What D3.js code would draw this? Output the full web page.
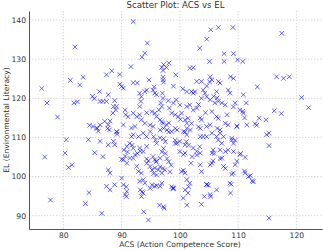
<!DOCTYPE html>
<html>
<head>
<meta charset="utf-8">
<script src="https://cdn.jsdelivr.net/npm/d3@7/dist/d3.min.js"></script>
<style>
  body { margin: 0; background: #fff; }
  svg { display: block; font-family: "DejaVu Sans", sans-serif; }
</style>
</head>
<body>
<svg id="chart" width="323" height="250"></svg>
<script>
// values, one point per pair (acs[i], el[i])
const acs = [
  76.3, 77.2, 79.0, 82.0, 81.2, 81.8, 82.4, 82.8, 83.4, 85.0, 85.3, 84.5, 86.2, 86.3, 86.8, 87.4,
  87.7, 88.8, 88.6, 89.1, 88.5, 89.0, 87.4, 88.3, 89.7, 89.7, 90.0, 90.3, 90.6, 91.6, 92.0, 92.0,
  92.7, 93.5, 94.0, 94.4, 94.7, 94.3, 94.0, 93.1, 93.4, 93.3, 93.1, 95.4, 95.7, 96.0, 95.6, 97.0,
  97.1, 96.7, 96.9, 96.9, 97.2, 97.7, 98.1, 97.1, 97.1, 97.1, 97.2, 98.9, 99.3, 100.5, 101.2, 101.7,
  102.3, 102.9, 103.7, 103.4, 104.6, 105.3, 105.1, 105.2, 105.5, 105.1, 104.6, 106.6, 106.6, 106.9, 106.3, 107.6,
  107.6, 108.3, 108.6, 108.7, 109.2, 109.1, 109.2, 109.9, 110.8, 110.9, 111.4, 110.3, 110.9, 113.3, 116.6, 117.8,
  118.8, 117.5, 116.2, 117.4, 120.9, 122.1, 112.9, 113.6, 114.8, 114.9, 115.3, 115.3, 112.1, 112.6, 115.3,
  // upper middle band
  102.0, 102.3, 102.6, 104.0, 104.3, 104.6, 103.7, 105.2, 106.0, 106.6, 107.2, 107.8, 109.5, 98.9, 99.4, 100.0,
  101.2, 101.7, 102.3, 102.9, 98.6, 99.2, 99.7, 100.3, 100.9, 101.4, 102.0, 103.7, 105.5, 106.3, 106.6, 107.8,
  108.3, 109.8, 111.5, 104.6, 105.2, 103.2, 103.5, 104.4, 105.8, 106.4, 108.1, 109.2, 110.8, 111.1,
  85.1, 85.7, 86.3, 87.1, 87.7, 88.0, 90.3, 90.7, 91.1, 92.0, 92.6, 93.1, 93.4, 94.0, 95.2, 95.7,
  96.0, 94.9, 95.4, 96.6, 97.1, 97.7, 91.7, 92.3, 94.3, 98.0, 98.2, 98.1, 96.9, 101.2, 100.1, 96.4,
  // lower left
  89.1, 86.3, 87.7, 88.6, 88.8, 85.8, 86.0, 87.6, 87.9, 89.2, 89.2, 85.4, 86.8, 84.3, 80.5, 76.8,
  80.3, 80.9, 81.5, 77.8, 83.8, 84.4, 86.6, 90.9, 91.4, 90.3, 90.9, 91.4, 92.0, 92.3, 91.7, 92.0,
  92.9, 93.7, 94.3, 94.9, 93.1, 93.7, 94.3, 92.6, 92.9, 93.4, 95.4, 95.7, 96.0, 96.6, 94.9, 95.7,
  96.3, 96.9, 97.4, 93.1, 93.7, 94.0, 95.2, 95.7, 96.6, 96.9, 93.7, 93.4, 87.7, 88.0, 87.4, 88.8,
  90.0, 90.3, 90.6, 90.9, 88.0, 90.8, 90.8, 90.0, 90.6, 90.4, 91.0, 91.8, 92.0, 92.7, 93.2, 93.2,
  93.5, 93.8, 94.6, 94.3, 94.6, 94.3, 95.5, 95.8, 96.0, 95.9, 95.2, 95.5, 96.0, 94.9, 96.0, 96.5,
  97.2, 97.3, 96.6, 97.1, 96.9, 97.2, 97.5, 96.6, 97.2, 97.8, 98.1, 96.6, 97.2, 97.5, 97.8, 98.1,
  98.5, 98.6, 98.8, 98.3, 99.2, 99.5, 99.2, 99.5,
  // lower right
  98.6, 100.6, 101.2, 99.2, 100.0, 100.9, 103.5, 104.0, 104.6, 105.5, 106.3, 106.9, 107.5, 108.9, 109.2, 100.0,
  100.6, 100.9, 102.3, 102.9, 103.5, 105.5, 105.7, 106.9, 107.8, 108.3, 109.2, 110.3, 109.8, 109.5, 107.2, 105.2,
  105.5, 101.9, 103.5, 100.3, 100.9, 100.6, 103.7, 107.5, 109.2, 111.2, 101.2, 101.7, 104.6, 106.3, 108.6, 98.9,
  98.9, 100.9, 101.4, 105.2, 108.7, 100.6, 101.2, 101.5, 100.9, 101.2, 101.8, 101.1, 101.5, 102.1, 102.9, 103.2,
  103.5, 103.4, 103.7, 104.2, 104.6, 104.9, 105.3, 105.7, 105.9, 106.4, 106.9, 106.6, 107.2, 106.9, 107.8, 108.9,
  109.5, 108.9, 108.8, 110.4, 111.2, 111.1, 111.8, 112.4, 109.8, 113.2
];
const el = [
  122.5, 118.8, 115.2, 133.1, 124.6, 118.8, 119.1, 123.4, 125.4, 120.5, 119.9, 113.1, 121.7, 119.2, 119.2, 119.2,
  120.9, 119.4, 117.9, 117.9, 116.2, 117.0, 126.0, 127.0, 126.1, 123.6, 123.0, 122.6, 117.0, 128.1, 139.6, 124.0,
  123.9, 130.5, 131.5, 134.1, 124.7, 122.1, 121.7, 121.3, 120.4, 119.2, 117.9, 122.1, 121.3, 120.9, 122.9, 121.3,
  120.0, 118.8, 117.9, 127.9, 128.6, 127.9, 129.0, 127.1, 125.4, 124.7, 124.1, 123.1, 126.0, 122.4, 121.7, 127.7,
  127.8, 124.3, 124.3, 132.8, 135.1, 137.5, 129.4, 125.5, 124.7, 124.2, 123.1, 138.1, 124.3, 123.9, 121.7, 131.4,
  129.4, 122.1, 121.3, 125.5, 125.1, 138.1, 131.4, 129.8, 129.4, 120.9, 118.8, 117.0, 116.2, 122.9, 125.5, 125.1,
  125.5, 136.6, 116.8, 116.1, 120.2, 117.6, 113.5, 114.9, 114.5, 110.7, 111.1, 107.9, 100.2, 98.7, 89.4,
  121.7, 121.3, 121.7, 122.1, 121.3, 120.4, 120.0, 119.6, 118.8, 119.2, 118.8, 118.3, 118.8, 118.8, 119.6, 118.3,
  117.9, 118.3, 117.0, 117.5, 116.2, 115.8, 115.3, 116.2, 114.5, 114.9, 113.6, 114.5, 116.6, 115.3, 114.9, 113.6,
  113.2, 112.8, 113.2, 112.8, 113.2, 118.4, 115.0, 116.3, 120.5, 120.1, 115.8, 117.8, 116.7, 115.0,
  112.8, 112.4, 113.2, 114.1, 113.2, 114.2, 113.2, 115.8, 115.3, 116.2, 115.3, 115.8, 114.5, 113.6, 116.6, 116.2,
  115.3, 113.2, 112.8, 114.5, 113.6, 113.2, 112.4, 112.8, 116.3, 119.4, 117.5, 113.7, 114.0, 113.6, 114.6, 117.0,
  111.5, 109.0, 108.1, 109.0, 108.1, 112.3, 111.6, 112.3, 111.9, 111.4, 110.8, 106.1, 105.1, 109.4, 109.4, 105.0,
  106.0, 102.3, 103.0, 94.0, 93.1, 95.9, 90.6, 107.7, 108.5, 104.3, 103.4, 104.7, 104.7, 105.6, 110.2, 110.7,
  110.2, 111.1, 110.2, 111.5, 107.3, 106.4, 107.7, 102.6, 101.3, 100.9, 105.1, 104.3, 103.9, 104.7, 102.6, 102.2,
  101.7, 100.9, 101.7, 98.8, 99.2, 98.3, 97.9, 97.5, 97.5, 98.3, 95.8, 94.9, 101.7, 100.9, 97.5, 97.9,
  99.6, 97.9, 95.4, 96.2, 96.6, 97.4, 94.9, 104.4, 105.2, 106.8, 106.3, 108.0, 107.2, 105.9, 106.5, 96.6,
  96.1, 91.0, 88.9, 103.4, 104.0, 104.5, 110.2, 109.3, 108.5, 103.8, 101.7, 100.8, 100.4, 97.0, 97.7, 92.7,
  92.3, 91.9, 102.5, 102.1, 106.3, 107.2, 105.9, 111.9, 112.3, 111.9, 111.4, 109.9, 109.7, 108.9, 104.6, 103.8,
  102.9, 97.4, 97.0, 101.2, 112.3, 111.9, 109.3, 108.5,
  111.5, 111.5, 110.7, 108.5, 109.0, 108.1, 110.2, 110.2, 110.2, 111.1, 110.2, 111.1, 110.2, 109.8, 108.5, 106.4,
  105.6, 106.0, 107.3, 106.4, 106.0, 106.0, 106.8, 106.8, 106.4, 106.8, 106.4, 105.6, 103.9, 103.0, 104.7, 103.0,
  103.4, 103.4, 103.0, 101.3, 100.9, 101.6, 101.3, 102.6, 100.9, 100.9, 99.2, 98.3, 97.9, 96.6, 98.3, 97.1,
  96.9, 96.6, 95.8, 95.4, 95.8, 94.5, 92.7, 97.4, 111.4, 112.3, 111.9, 108.9, 108.0, 105.1, 105.5, 112.7,
  112.3, 107.6, 92.9, 94.9, 98.0, 97.8, 94.9, 104.0, 105.9, 112.3, 111.9, 109.3, 108.5, 104.6, 102.1, 109.3,
  109.3, 100.6, 98.0, 105.9, 104.9, 101.4, 100.0, 98.9, 112.9, 113.1
];
const xTicks = [80, 90, 100, 110, 120];
const yTicks = [90, 100, 110, 120, 130, 140];

const points = acs.map((a, i) => ({acs: a, el: el[i]}));

const svg = d3.select("#chart");
const plotLeft = 29, plotRight = 322, plotTop = 11, plotBottom = 229;

const x = d3.scaleLinear().domain([74.1, 124.4]).range([plotLeft, plotRight]);
const y = d3.scaleLinear().domain([86.6, 142.3]).range([plotBottom, plotTop]);

// dotted grid
svg.append("g")
    .selectAll("line")
    .data(xTicks)
    .join("line")
    .attr("x1", (d) => x(d)).attr("x2", (d) => x(d))
    .attr("y1", plotTop).attr("y2", plotBottom)
    .attr("stroke", "#d9d9d9")
    .attr("stroke-dasharray", "1.5,1.5");

svg.append("g")
    .selectAll("line")
    .data(yTicks)
    .join("line")
    .attr("x1", plotLeft).attr("x2", plotRight)
    .attr("y1", (d) => y(d)).attr("y2", (d) => y(d))
    .attr("stroke", "#d9d9d9")
    .attr("stroke-dasharray", "1.5,1.5");

// x markers
const s = 2.3;
svg.append("g")
    .selectAll("path")
    .data(points)
    .join("path")
    .attr("transform", (d) => `translate(${x(d.acs)},${y(d.el)})`)
    .attr("d", `M${-s},${-s}L${s},${s}M${-s},${s}L${s},${-s}`)
    .attr("stroke", "#0000ff")
    .attr("stroke-opacity", 0.6)
    .attr("stroke-width", 1)
    .attr("fill", "none");

// axes
const xAxis = svg.append("g")
    .attr("transform", `translate(0,${plotBottom})`)
    .call(d3.axisBottom(x).tickValues(xTicks).tickSize(0).tickPadding(4).tickSizeOuter(0));
const yAxis = svg.append("g")
    .attr("transform", `translate(${plotLeft},0)`)
    .call(d3.axisLeft(y).tickValues(yTicks).tickSize(0).tickPadding(3).tickSizeOuter(0));

[xAxis, yAxis].forEach((g) => {
    g.select(".domain").attr("stroke", "#555").attr("stroke-width", 1);
    g.selectAll("text")
        .attr("fill", "#333")
        .style("font-size", "7.6px")
        .style("font-family", "DejaVu Sans, sans-serif");
});

svg.append("text")
    .attr("x", (plotLeft + plotRight) / 2)
    .attr("y", 8)
    .attr("text-anchor", "middle")
    .attr("fill", "#333")
    .style("font-size", "8.6px")
    .text("Scatter Plot: ACS vs EL");

svg.append("text")
    .attr("x", 180)
    .attr("y", 246.5)
    .attr("text-anchor", "middle")
    .attr("fill", "#333")
    .style("font-size", "7.6px")
    .text("ACS (Action Competence Score)");

svg.append("text")
    .attr("transform", `translate(9,${(plotTop + plotBottom) / 2}) rotate(-90)`)
    .attr("text-anchor", "middle")
    .attr("fill", "#333")
    .style("font-size", "7.6px")
    .text("EL (Environmental Literacy)");
</script>
</body>
</html>
